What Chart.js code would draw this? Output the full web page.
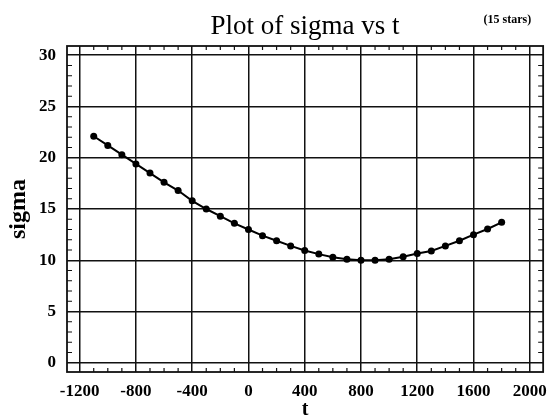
<!DOCTYPE html>
<html>
<head>
<meta charset="utf-8">
<title>Plot of sigma vs t</title>
<script src="https://cdn.jsdelivr.net/npm/chart.js@4.4.0/dist/chart.umd.min.js"></script>
<style>
    html, body { margin: 0; padding: 0; background: #fff; }
    #wrap { width: 556px; height: 420px; }
</style>
</head>
<body>
<div id="wrap"><canvas id="sigmaChart"></canvas></div>
<script>
// sigma against t, one point every 100
const tValues = [-1100, -1000, -900, -800, -700, -600, -500, -400, -300, -200,
                 -100, 0, 100, 200, 300, 400, 500, 600, 700, 800,
                 900, 1000, 1100, 1200, 1300, 1400, 1500, 1600, 1700, 1800];
const sigmaValues = [22.1, 21.2, 20.3, 19.4, 18.5, 17.6, 16.8, 15.8, 15.0, 14.3,
                     13.6, 13.0, 12.4, 11.9, 11.4, 10.95, 10.6, 10.3, 10.1, 10.0,
                     10.0, 10.1, 10.35, 10.65, 10.9, 11.4, 11.9, 12.5, 13.05, 13.7];

const xTicks = [-1200, -800, -400, 0, 400, 800, 1200, 1600, 2000];
const yTicks = [0, 5, 10, 15, 20, 25, 30];
const xMinorStep = 100;
const yMinorStep = 1;

const serif = "'Liberation Serif', 'Times New Roman', serif";

// Box round the plot area, inward minor ticks, heading and star count
const framePlugin = {
    id: 'frame',
    afterDraw(chart) {
        const { ctx, chartArea: a, scales } = chart;
        const xs = scales.x, ys = scales.y;
        ctx.save();
        ctx.strokeStyle = '#111';
        ctx.lineWidth = 1.8;
        ctx.strokeRect(a.left, a.top, a.right - a.left, a.bottom - a.top);

        ctx.lineWidth = 1.2;
        ctx.beginPath();
        for (let v = xTicks[0]; v <= xTicks[xTicks.length - 1]; v += xMinorStep) {
            if (xTicks.includes(v)) continue;
            const px = xs.getPixelForValue(v);
            ctx.moveTo(px, a.bottom); ctx.lineTo(px, a.bottom - 4);
            ctx.moveTo(px, a.top); ctx.lineTo(px, a.top + 4);
        }
        for (let v = yTicks[0]; v <= yTicks[yTicks.length - 1]; v += yMinorStep) {
            if (yTicks.includes(v)) continue;
            const py = ys.getPixelForValue(v);
            ctx.moveTo(a.left, py); ctx.lineTo(a.left + 5, py);
            ctx.moveTo(a.right, py); ctx.lineTo(a.right - 5, py);
        }
        ctx.stroke();

        ctx.fillStyle = '#000';
        ctx.textBaseline = 'alphabetic';
        ctx.textAlign = 'center';
        ctx.font = `27px ${serif}`;
        ctx.fillText('Plot of sigma vs t', (a.left + a.right) / 2, 34);
        ctx.textAlign = 'right';
        ctx.font = `bold 12px ${serif}`;
        ctx.fillText('(15 stars)', a.right - 12, 23);
        ctx.restore();
    }
};

const ctx = document.getElementById('sigmaChart').getContext('2d');
const sigmaChart = new Chart(ctx, {
    type: 'scatter',
    data: {
        datasets: [{
            label: 'sigma',
            data: tValues.map((t, i) => ({ x: t, y: sigmaValues[i] })),
            showLine: true,
            tension: 0,
            borderColor: '#000',
            borderWidth: 2,
            pointRadius: 3.5,
            pointBackgroundColor: '#000',
            pointBorderColor: '#000',
            pointBorderWidth: 0
        }]
    },
    options: {
        responsive: true,
        maintainAspectRatio: false,
        animation: false,
        layout: {
            padding: { top: 46, right: 8, left: 0, bottom: 0 }
        },
        plugins: {
            legend: { display: false },
            title: { display: false },
            tooltip: { enabled: false }
        },
        scales: {
            x: {
                type: 'linear',
                min: -1290,
                max: 2095,
                afterBuildTicks: scale => {
                    scale.ticks = xTicks.map(v => ({ value: v }));
                },
                afterFit: scale => { scale.height = 48; },
                grid: {
                    color: '#111',
                    lineWidth: 1.5,
                    drawTicks: false
                },
                border: { display: false },
                ticks: {
                    color: '#000',
                    padding: 9,
                    maxRotation: 0,
                    font: { family: serif, size: 17, weight: 'bold' },
                    callback: v => String(v)
                },
                title: {
                    display: true,
                    text: 't',
                    color: '#000',
                    padding: { top: 0, bottom: -2 },
                    font: { family: serif, size: 20, weight: 'bold' }
                }
            },
            y: {
                type: 'linear',
                min: -0.9,
                max: 30.9,
                afterBuildTicks: scale => {
                    scale.ticks = yTicks.map(v => ({ value: v }));
                },
                afterFit: scale => { scale.width = 67; },
                grid: {
                    color: '#111',
                    lineWidth: 1.5,
                    drawTicks: false
                },
                border: { display: false },
                ticks: {
                    color: '#000',
                    padding: 11,
                    font: { family: serif, size: 17, weight: 'bold' },
                    callback: v => String(v)
                },
                title: {
                    display: true,
                    text: 'sigma',
                    color: '#000',
                    padding: { top: 4, bottom: 0 },
                    font: { family: serif, size: 24, weight: 'bold' }
                }
            }
        }
    },
    plugins: [framePlugin]
});
</script>
</body>
</html>
